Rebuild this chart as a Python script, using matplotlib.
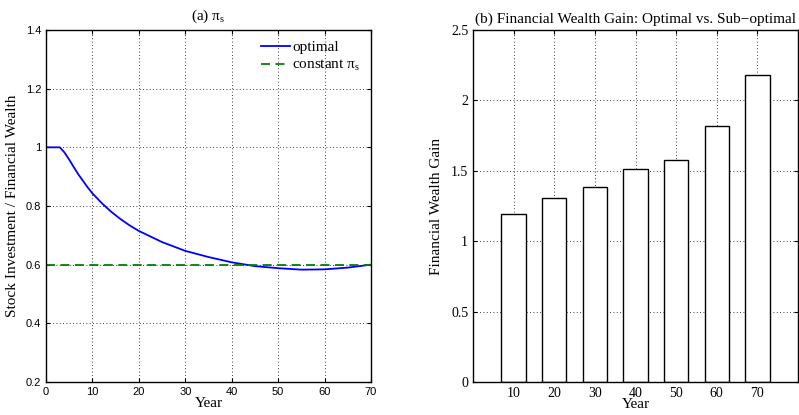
import matplotlib.pyplot as plt
from matplotlib.ticker import FixedLocator, FuncFormatter

plt.rcParams.update(
    {
        "mathtext.fontset": "custom",
        "mathtext.rm": "Liberation Serif",
        "mathtext.it": "Liberation Serif:italic",
        "axes.linewidth": 1.0,
        "xtick.direction": "in",
        "ytick.direction": "in",
        "xtick.top": True,
        "ytick.right": True,
        "xtick.major.size": 3,
        "ytick.major.size": 3,
    }
)

SERIF = "Liberation Serif"
SANS = "Liberation Sans"

# (a) optimal share of stocks vs constant share
years = [0, 1, 2, 3, 4, 5, 6, 7, 8, 9, 10, 12, 14, 16, 18, 20, 25, 30, 35, 40,
         45, 50, 55, 60, 65, 70]
optimal = [1.0, 1.0, 1.0, 1.0, 0.982, 0.958, 0.932, 0.907, 0.885, 0.863, 0.843,
           0.810, 0.781, 0.756, 0.734, 0.715, 0.677, 0.647, 0.626, 0.608,
           0.595, 0.588, 0.583, 0.584, 0.590, 0.600]
const_years = [0, 70]
const_pi = [0.6, 0.6]

# (b) wealth gain
gain_years = [10, 20, 30, 40, 50, 60, 70]
gain = [1.19, 1.305, 1.387, 1.51, 1.579, 1.82, 2.18]

fig = plt.figure(figsize=(7.99, 4.15), dpi=100)
ax1 = fig.add_axes([46 / 799, 33 / 415, 325 / 799, 352 / 415])
ax2 = fig.add_axes([473 / 799, 33 / 415, 325 / 799, 352 / 415])

fmt = FuncFormatter(lambda v, p: f"{v:g}")
grid_ls = (0, (1, 3))

# left panel
ax1.plot(years, optimal, color="blue", lw=1.3, label="optimal")
ax1.plot(const_years, const_pi, color=(0, 0.5, 0), lw=1.3, ls="--",
         dashes=(5, 3), label="constant π$_\\mathrm{s}$")
ax1.set_xlim(0, 70)
ax1.set_ylim(0.2, 1.4)
ax1.xaxis.set_major_locator(FixedLocator(range(0, 71, 10)))
ax1.yaxis.set_major_locator(FixedLocator([0.2, 0.4, 0.6, 0.8, 1.0, 1.2, 1.4]))
ax1.yaxis.set_major_formatter(fmt)
ax1.grid(True, ls=grid_ls, color="black", lw=0.6)
ax1.set_axisbelow(True)
for lab in ax1.get_xticklabels() + ax1.get_yticklabels():
    lab.set_fontfamily(SANS)
    lab.set_fontsize(8)
ax1.set_xlabel("Year", family=SERIF, fontsize=11, labelpad=0)
ax1.set_ylabel("Stock Investment / Financial Wealth", family=SERIF, fontsize=11, labelpad=5)
ax1.set_title("(a) π$_\\mathrm{s}$", family=SERIF, fontsize=11, pad=7)
ax1.legend(loc="upper right", frameon=False, prop={"family": SERIF, "size": 11},
           handlelength=1.9, handletextpad=0.15, labelspacing=0.25,
           borderaxespad=0.3, bbox_to_anchor=(1.0, 1.0))

# right panel
ax2.bar(gain_years, gain, width=6, color="white", edgecolor="black", lw=1.0, zorder=2)
ax2.set_xlim(0, 80)
ax2.set_ylim(0, 2.5)
ax2.xaxis.set_major_locator(FixedLocator(gain_years))
ax2.yaxis.set_major_locator(FixedLocator([0, 0.5, 1.0, 1.5, 2.0, 2.5]))
ax2.yaxis.set_major_formatter(fmt)
ax2.grid(True, ls=grid_ls, color="black", lw=0.6, zorder=0)
ax2.set_axisbelow(True)
for lab in ax2.get_xticklabels() + ax2.get_yticklabels():
    lab.set_fontfamily(SERIF)
    lab.set_fontsize(10)
ax2.set_xlabel("Year", family=SERIF, fontsize=11, labelpad=-1)
ax2.set_ylabel("Financial Wealth Gain", family=SERIF, fontsize=11, labelpad=6)
ax2.set_title("(b) Financial Wealth Gain: Optimal vs. Sub\u2212optimal",
              family=SERIF, fontsize=11, pad=5)

fig.savefig("out.png", dpi=100)
